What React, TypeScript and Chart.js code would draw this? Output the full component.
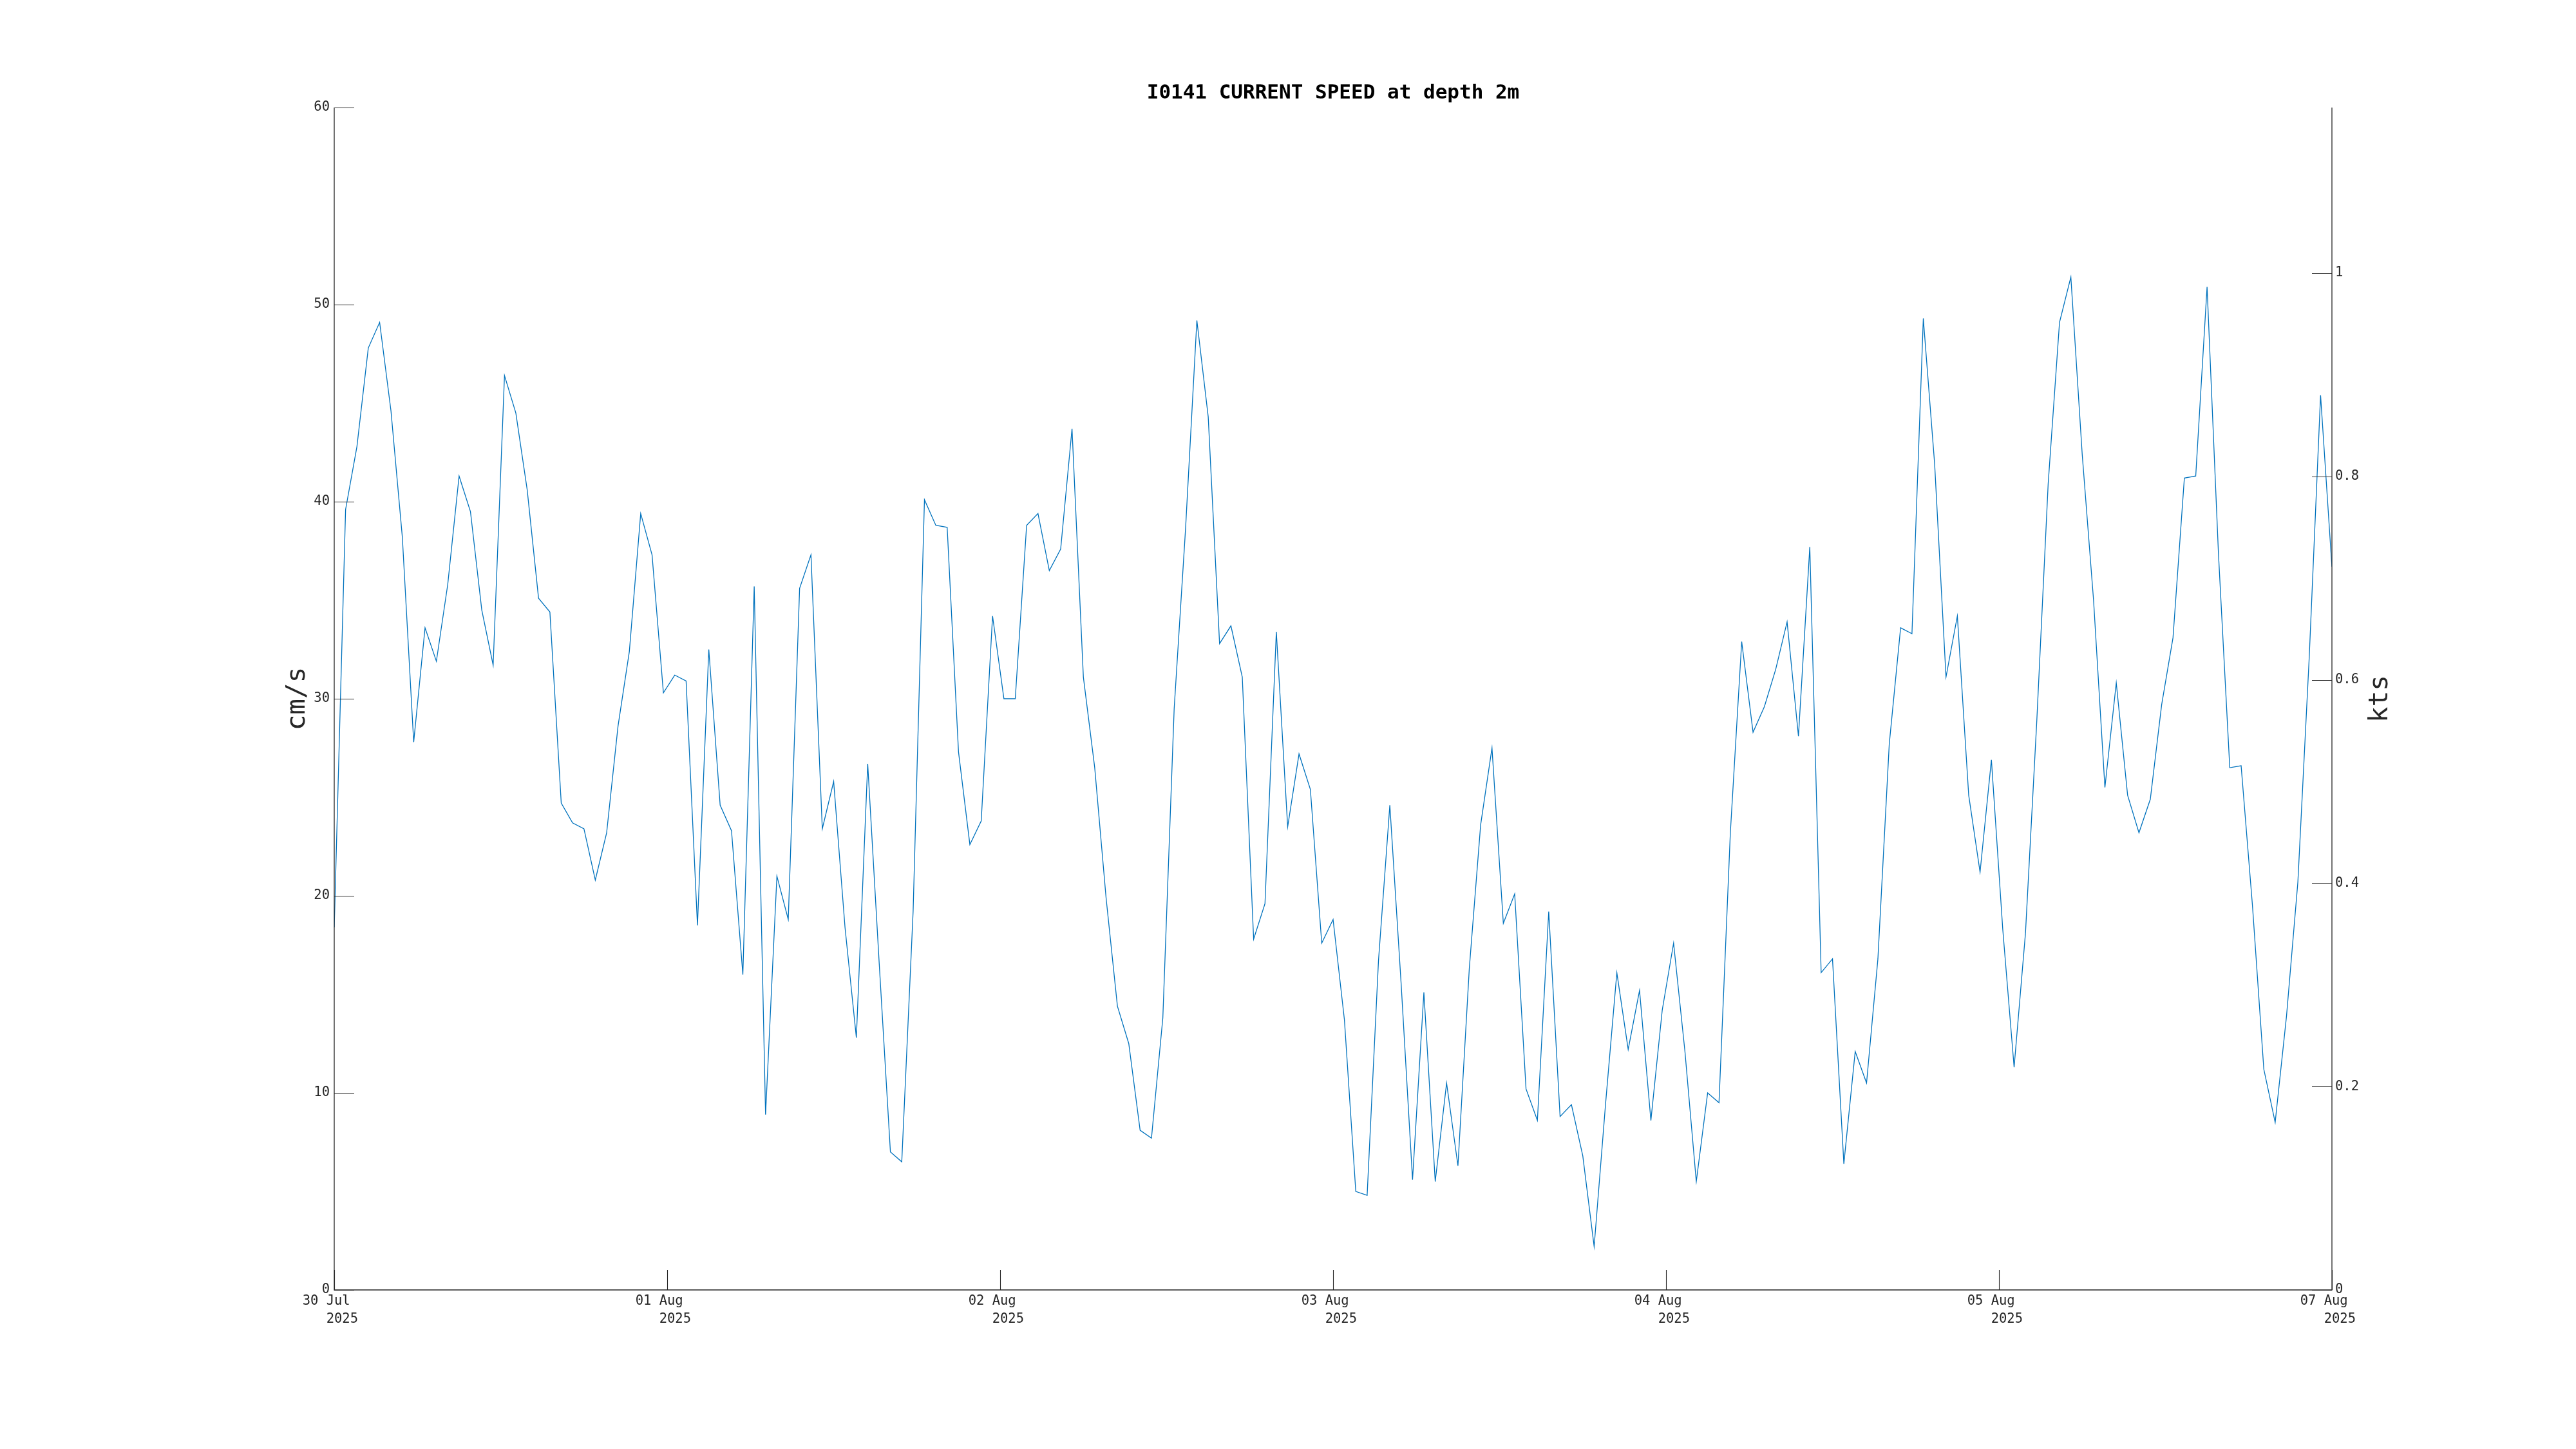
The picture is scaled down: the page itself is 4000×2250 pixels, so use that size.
import React, { useEffect, useRef } from 'react';
import { Chart, registerables } from 'chart.js';

Chart.register(...registerables);

const TITLE = 'I0141 CURRENT SPEED at depth 2m';
const Y_LEFT_TITLE = 'cm/s';
const Y_RIGHT_TITLE = 'kts';

// Current speed (cm/s), one value per sample
const SPEED_CMS = [
  18.4, 39.6, 42.8, 47.8, 49.1, 44.6, 38.2, 27.8, 33.6, 31.9,
  35.8, 41.3, 39.5, 34.5, 31.7, 46.4, 44.5, 40.6, 35.1, 34.4,
  24.7, 23.7, 23.4, 20.8, 23.2, 28.6, 32.4, 39.4, 37.3, 30.3,
  31.2, 30.9, 18.5, 32.5, 24.6, 23.3, 16.0, 35.7, 8.9, 21.0,
  18.8, 35.6, 37.3, 23.4, 25.8, 18.4, 12.8, 26.7, 16.7, 7.0,
  6.5, 19.2, 40.1, 38.8, 38.7, 27.3, 22.6, 23.8, 34.2, 30.0,
  30.0, 38.8, 39.4, 36.5, 37.6, 43.7, 31.1, 26.5, 19.9, 14.4,
  12.5, 8.1, 7.7, 13.8, 29.5, 38.6, 49.2, 44.3, 32.8, 33.7,
  31.1, 17.8, 19.6, 33.4, 23.5, 27.2, 25.4, 17.6, 18.8, 13.7,
  5.0, 4.8, 16.7, 24.6, 15.5, 5.6, 15.1, 5.5, 10.5, 6.3,
  16.3, 23.6, 27.5, 18.6, 20.1, 10.2, 8.6, 19.2, 8.8, 9.4,
  6.8, 2.2, 9.4, 16.1, 12.2, 15.2, 8.6, 14.2, 17.6, 12.1,
  5.5, 10.0, 9.5, 23.2, 32.9, 28.3, 29.6, 31.5, 33.9, 28.1,
  37.7, 16.1, 16.8, 6.4, 12.1, 10.5, 16.8, 27.7, 33.6, 33.3,
  49.3, 41.9, 31.1, 34.2, 25.1, 21.2, 26.9, 18.3, 11.3, 18.1,
  28.9, 40.9, 49.1, 51.4, 42.4, 35.0, 25.5, 30.8, 25.1, 23.2,
  24.9, 29.7, 33.1, 41.2, 41.3, 50.9, 37.4, 26.5, 26.6, 19.5,
  11.2, 8.5, 13.9, 20.7, 32.1, 45.4, 36.7,
];

const X_TICK_LABELS: string[][] = [
  ['30 Jul  ', '   2025 '],
  ['01 Aug  ', '   2025 '],
  ['02 Aug  ', '   2025 '],
  ['03 Aug  ', '   2025 '],
  ['04 Aug  ', '   2025 '],
  ['05 Aug  ', '   2025 '],
  ['07 Aug  ', '   2025 '],
];

const Y_LEFT_TICKS = [0, 10, 20, 30, 40, 50, 60];
const Y_RIGHT_TICKS = [0, 0.2, 0.4, 0.6, 0.8, 1];
const Y_RIGHT_LABELS = ['0', '0.2', '0.4', '0.6', '0.8', '1'];
const Y_LEFT_MAX = 60;
const CMS_PER_KT = 51.6;

const FONT = '"DejaVu Sans Mono", monospace';
const INK = '#262626';

const decorPlugin = {
  id: 'decor',
  afterDraw(chart: any) {
    const { ctx, chartArea: ca, scales } = chart;
    const TL = 31;
    ctx.save();
    ctx.strokeStyle = INK;
    ctx.lineWidth = 1.3;
    ctx.beginPath();
    ctx.moveTo(ca.left, ca.top);
    ctx.lineTo(ca.left, ca.bottom);
    ctx.lineTo(ca.right, ca.bottom);
    ctx.lineTo(ca.right, ca.top);
    ctx.stroke();

    ctx.lineWidth = 1.1;
    ctx.beginPath();
    scales.y.ticks.forEach((t: any) => {
      const p = Math.round(scales.y.getPixelForValue(t.value)) + 0.5;
      ctx.moveTo(ca.left, p);
      ctx.lineTo(ca.left + TL, p);
    });
    scales.y2.ticks.forEach((t: any) => {
      const p = Math.round(scales.y2.getPixelForValue(t.value)) + 0.5;
      ctx.moveTo(ca.right - TL, p);
      ctx.lineTo(ca.right, p);
    });
    scales.x.ticks.forEach((t: any) => {
      const p = Math.round(scales.x.getPixelForValue(t.value)) + 0.5;
      ctx.moveTo(p, ca.bottom);
      ctx.lineTo(p, ca.bottom - TL);
    });
    ctx.stroke();

    // title
    ctx.fillStyle = '#000';
    ctx.font = 'bold 31px ' + FONT;
    ctx.textAlign = 'center';
    ctx.textBaseline = 'alphabetic';
    ctx.fillText(TITLE, (ca.left + ca.right) / 2, 153);

    // axis titles
    const mid = (ca.top + ca.bottom) / 2;
    ctx.fillStyle = INK;
    ctx.font = '41px ' + FONT;
    ctx.save();
    ctx.translate(ca.left - 46, mid);
    ctx.rotate(-Math.PI / 2);
    ctx.fillText(Y_LEFT_TITLE, 0, 0);
    ctx.restore();
    ctx.save();
    ctx.translate(ca.right + 86, mid);
    ctx.rotate(-Math.PI / 2);
    ctx.fillText(Y_RIGHT_TITLE, 0, 0);
    ctx.restore();
    ctx.restore();
  },
};

export default function App() {
  const ref = useRef<HTMLCanvasElement | null>(null);

  useEffect(() => {
    if (!ref.current) return;
    const n = SPEED_CMS.length;
    const xTickVals = X_TICK_LABELS.map((_, k) => (k * (n - 1)) / (X_TICK_LABELS.length - 1));
    const tickFont = { family: FONT, size: 20.5, lineHeight: 1.37 };

    const chart = new Chart(ref.current, {
      type: 'line',
      data: {
        datasets: [
          {
            label: 'speed',
            data: SPEED_CMS.map((v, i) => ({ x: i, y: v })),
            borderColor: '#0072BD',
            borderWidth: 1.3,
            pointRadius: 0,
            fill: false,
            tension: 0,
            yAxisID: 'y',
          },
        ],
      },
      options: {
        responsive: false,
        animation: false,
        devicePixelRatio: 1,
        layout: { padding: { top: 167, left: 0, right: 0, bottom: 0 } },
        plugins: {
          legend: { display: false },
          title: { display: false },
          tooltip: { enabled: false },
        },
        scales: {
          x: {
            type: 'linear',
            min: 0,
            max: n - 1,
            grid: { display: false, drawTicks: false },
            border: { display: false },
            afterBuildTicks: (s: any) => {
              s.ticks = xTickVals.map((v) => ({ value: v }));
            },
            afterFit: (s: any) => {
              s.height = 247;
            },
            ticks: {
              autoSkip: false,
              maxRotation: 0,
              minRotation: 0,
              padding: 4,
              color: INK,
              font: tickFont,
              callback: (_v: any, i: number) => X_TICK_LABELS[i],
            },
          },
          y: {
            type: 'linear',
            position: 'left',
            min: 0,
            max: Y_LEFT_MAX,
            grid: { display: false, drawTicks: false },
            border: { display: false },
            afterBuildTicks: (s: any) => {
              s.ticks = Y_LEFT_TICKS.map((v) => ({ value: v }));
            },
            afterFit: (s: any) => {
              s.width = 519;
            },
            ticks: {
              padding: 7,
              color: INK,
              font: tickFont,
              callback: (v: any) => String(v),
            },
          },
          y2: {
            type: 'linear',
            position: 'right',
            min: 0,
            max: Y_LEFT_MAX / CMS_PER_KT,
            grid: { display: false, drawTicks: false },
            border: { display: false },
            afterBuildTicks: (s: any) => {
              s.ticks = Y_RIGHT_TICKS.map((v) => ({ value: v }));
            },
            afterFit: (s: any) => {
              s.width = 379;
            },
            ticks: {
              padding: 5,
              color: INK,
              font: tickFont,
              callback: (_v: any, i: number) => Y_RIGHT_LABELS[i],
            },
          },
        },
      },
      plugins: [decorPlugin],
    });
    return () => chart.destroy();
  }, []);

  return (
    <div style={{ position: 'fixed', left: 0, top: 0, width: 4000, height: 2250, background: '#fff' }}>
      <canvas ref={ref} width={4000} height={2250} style={{ display: 'block', width: 4000, height: 2250 }} />
    </div>
  );
}
